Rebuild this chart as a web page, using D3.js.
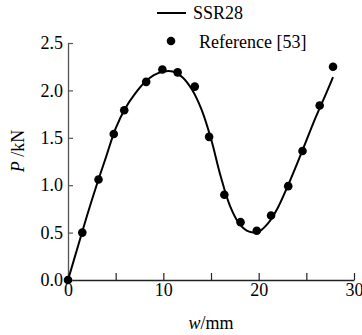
<!DOCTYPE html>
<html>
<head>
<meta charset="utf-8">
<script src="https://cdn.jsdelivr.net/npm/d3@7"></script>
</head>
<body style="margin:0">
<svg id="chart" width="362" height="335"></svg>
<script>
// SSR28 curve
const curveW = [0, 1, 2, 3, 4, 5, 6, 7, 8, 9, 10, 11, 12, 13, 14, 15, 16, 17, 18, 19, 20, 21, 22, 23, 24, 25, 26, 27, 27.8];
const curveP = [0, 0.34, 0.68, 1.0, 1.3, 1.6, 1.81, 1.96, 2.08, 2.16, 2.2, 2.2, 2.14, 2.01, 1.8, 1.49, 1.1, 0.78, 0.59, 0.51, 0.51, 0.6, 0.76, 0.98, 1.22, 1.47, 1.72, 1.95, 2.14];

// Reference [53] points
const refW = [0, 1.5, 3.2, 4.8, 5.9, 8.2, 9.9, 11.5, 13.3, 14.8, 16.4, 18.1, 19.8, 21.3, 23.1, 24.6, 26.4, 27.8];
const refP = [0, 0.5, 1.06, 1.54, 1.79, 2.09, 2.22, 2.19, 2.04, 1.51, 0.9, 0.61, 0.52, 0.68, 0.99, 1.36, 1.84, 2.25];

const xTicks = [0, 5, 10, 15, 20, 25, 30];
const yTicks = [0, 0.5, 1.0, 1.5, 2.0, 2.5];
const seriesNames = ["SSR28", "Reference [53]"];

const W = 362, H = 335;
const margin = { top: 43, right: 8, bottom: 55, left: 68 };

const svg = d3.select("#chart");

const x = d3.scaleLinear().domain([0, 30]).range([margin.left, W - margin.right]);
const y = d3.scaleLinear().domain([0, 2.5]).range([H - margin.bottom, margin.top]);

// x axis, ticks pointing up into the plot
const xAxis = svg.append("g")
  .attr("transform", `translate(0,${y(0)})`)
  .call(d3.axisBottom(x).tickValues(xTicks).tickSizeInner(-7).tickSizeOuter(0)
    .tickFormat(d => d % 10 === 0 ? d : ""));
xAxis.attr("font-family", "serif").attr("font-size", 18);
xAxis.select(".domain").attr("stroke", "#222").attr("stroke-width", 1.3);
xAxis.selectAll(".tick line").attr("stroke", "#222").attr("stroke-width", 1.2);
xAxis.selectAll(".tick text").attr("fill", "#000").attr("y", 3).attr("dy", "0.71em");

// y axis, ticks pointing right
const yAxis = svg.append("g")
  .attr("transform", `translate(${x(0)},0)`)
  .call(d3.axisLeft(y).tickValues(yTicks).tickSizeInner(-5).tickSizeOuter(0)
    .tickFormat(d3.format(".1f")));
yAxis.attr("font-family", "serif").attr("font-size", 18);
yAxis.select(".domain").attr("stroke", "#555").attr("stroke-width", 1.3);
yAxis.selectAll(".tick line").attr("stroke", "#555").attr("stroke-width", 1.2);
yAxis.selectAll(".tick text").attr("fill", "#000").attr("x", -5);

// axis titles
svg.append("text")
  .attr("font-family", "serif").attr("font-size", 18)
  .attr("x", 211).attr("y", 329)
  .attr("text-anchor", "middle")
  .html('<tspan font-style="italic">w</tspan>/mm');

svg.append("text")
  .attr("font-family", "serif").attr("font-size", 18)
  .attr("transform", "translate(24,151) rotate(-90)")
  .attr("text-anchor", "middle")
  .html('<tspan font-style="italic">P</tspan> /kN');

// curve
const line = d3.line()
  .x(d => x(d[0]))
  .y(d => y(d[1]))
  .curve(d3.curveCatmullRom.alpha(0.5));

svg.append("path")
  .datum(curveW.map((w, i) => [w, curveP[i]]))
  .attr("d", line)
  .attr("fill", "none")
  .attr("stroke", "#000")
  .attr("stroke-width", 2);

// reference dots
svg.append("g")
  .selectAll("circle")
  .data(refW.map((w, i) => [w, refP[i]]))
  .join("circle")
  .attr("cx", d => x(d[0]))
  .attr("cy", d => y(d[1]))
  .attr("r", 4.3)
  .attr("fill", "#000");

// legend
const lg = svg.append("g").attr("font-family", "serif").attr("font-size", 18);
lg.append("line")
  .attr("x1", 157).attr("x2", 186).attr("y1", 13).attr("y2", 13)
  .attr("stroke", "#000").attr("stroke-width", 2);
lg.append("text")
  .attr("x", 193).attr("y", 19)
  .text(seriesNames[0]);
lg.append("circle")
  .attr("cx", 171).attr("cy", 41).attr("r", 4.3).attr("fill", "#000");
lg.append("text")
  .attr("x", 199).attr("y", 48)
  .text(seriesNames[1]);
</script>
</body>
</html>
